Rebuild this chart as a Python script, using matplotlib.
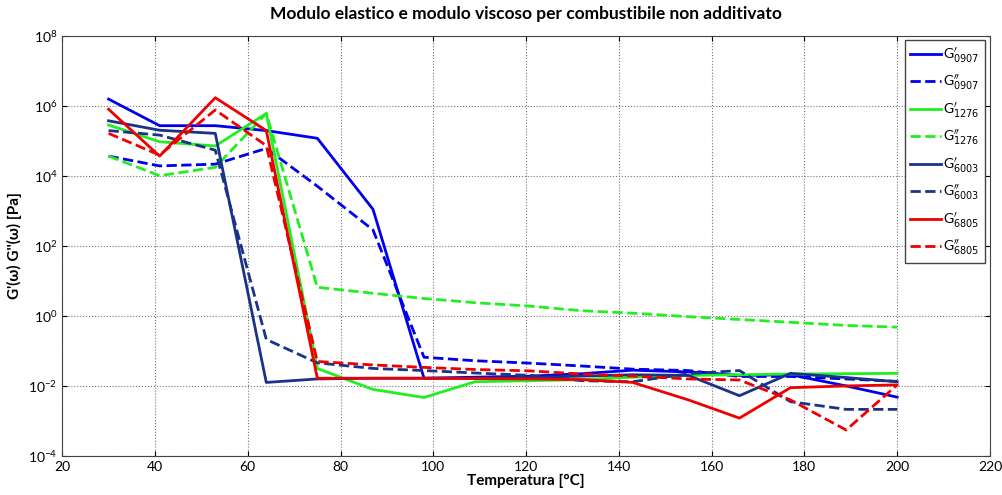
import numpy as np
import matplotlib
matplotlib.use("Agg")
import matplotlib.pyplot as plt

plt.rcParams['font.family'] = ['Lato', 'DejaVu Sans']

# temperature points [°C]
temp = [30, 41, 53, 64, 75, 87, 98, 109, 121, 132, 143, 155, 166, 177, 189, 200]

# log10 of the moduli [Pa]
g1_0907 = [6.20, 5.44, 5.44, 5.30, 5.08, 3.05, -1.78, -1.75, -1.72, -1.65, -1.55, -1.60, -1.70, -1.68, -2.00, -2.32]
g2_0907 = [4.57, 4.29, 4.34, 4.79, 3.71, 2.46, -1.18, -1.28, -1.35, -1.43, -1.52, -1.56, -1.73, -1.73, -1.80, -1.87]
g1_1276 = [5.46, 4.98, 4.86, 5.79, -1.50, -2.10, -2.33, -1.88, -1.85, -1.82, -1.75, -1.70, -1.68, -1.66, -1.65, -1.64]
g2_1276 = [4.57, 4.01, 4.25, 5.79, 0.82, 0.65, 0.50, 0.38, 0.28, 0.15, 0.08, -0.02, -0.10, -0.18, -0.27, -0.32]
g1_6003 = [5.58, 5.31, 5.22, -1.90, -1.80, -1.78, -1.78, -1.78, -1.76, -1.72, -1.68, -1.70, -2.28, -1.64, -1.76, -1.88]
g2_6003 = [5.30, 5.17, 4.74, -0.67, -1.34, -1.50, -1.56, -1.63, -1.70, -1.85, -1.88, -1.65, -1.56, -2.45, -2.67, -2.67]
g1_6805 = [5.91, 4.57, 6.24, 5.30, -1.78, -1.78, -1.78, -1.79, -1.80, -1.82, -1.90, -2.40, -2.92, -2.05, -2.00, -1.97]
g2_6805 = [5.22, 4.60, 5.89, 4.87, -1.30, -1.40, -1.47, -1.53, -1.57, -1.66, -1.72, -1.80, -1.83, -2.40, -3.26, -1.97]

series = [
    (g1_0907, '#0000ee', '-', r"G$^{\prime}_{0907}$"),
    (g2_0907, '#0000ee', '--', r"G$^{\prime\prime}_{0907}$"),
    (g1_1276, '#22ee22', '-', r"G$^{\prime}_{1276}$"),
    (g2_1276, '#22ee22', '--', r"G$^{\prime\prime}_{1276}$"),
    (g1_6003, '#1a3388', '-', r"G$^{\prime}_{6003}$"),
    (g2_6003, '#1a3388', '--', r"G$^{\prime\prime}_{6003}$"),
    (g1_6805, '#ee0000', '-', r"G$^{\prime}_{6805}$"),
    (g2_6805, '#ee0000', '--', r"G$^{\prime\prime}_{6805}$"),
]

fig = plt.figure(figsize=(10.03, 4.95), dpi=100)
ax = fig.add_axes([0.062, 0.079, 0.925, 0.848])

for vals, col, ls, lab in series:
    ax.semilogy(temp, 10.0 ** np.array(vals), color=col, linestyle=ls, linewidth=2, label=lab)

ax.set_xlim(20, 220)
ax.set_ylim(1e-4, 1e8)
ax.set_xticks(range(20, 221, 20))
ax.set_yticks([10.0 ** k for k in range(-4, 9, 2)])
ax.minorticks_off()
ax.grid(True, linestyle=':', color='#777777', linewidth=0.8)
ax.tick_params(direction='in', top=True, right=True, labelsize=10)
for s in ax.spines.values():
    s.set_color('#444444')

ax.set_xlabel('Temperatura [°C]', fontsize=11, fontweight='bold', labelpad=1)
ax.set_ylabel("G'(ω) G''(ω) [Pa]", fontsize=11, fontweight='bold')
ax.set_title('Modulo elastico e modulo viscoso per combustibile non additivato', fontsize=12.5, fontweight='bold', pad=12)

leg = ax.legend(loc='upper right', fontsize=10, handlelength=2.2, handletextpad=0.2,
                labelspacing=0.6, fancybox=False, framealpha=1, borderpad=0.4,
                borderaxespad=0.2, bbox_to_anchor=(0.998, 0.998))
leg.get_frame().set_edgecolor('#444444')

fig.savefig('out.png', dpi=100)
